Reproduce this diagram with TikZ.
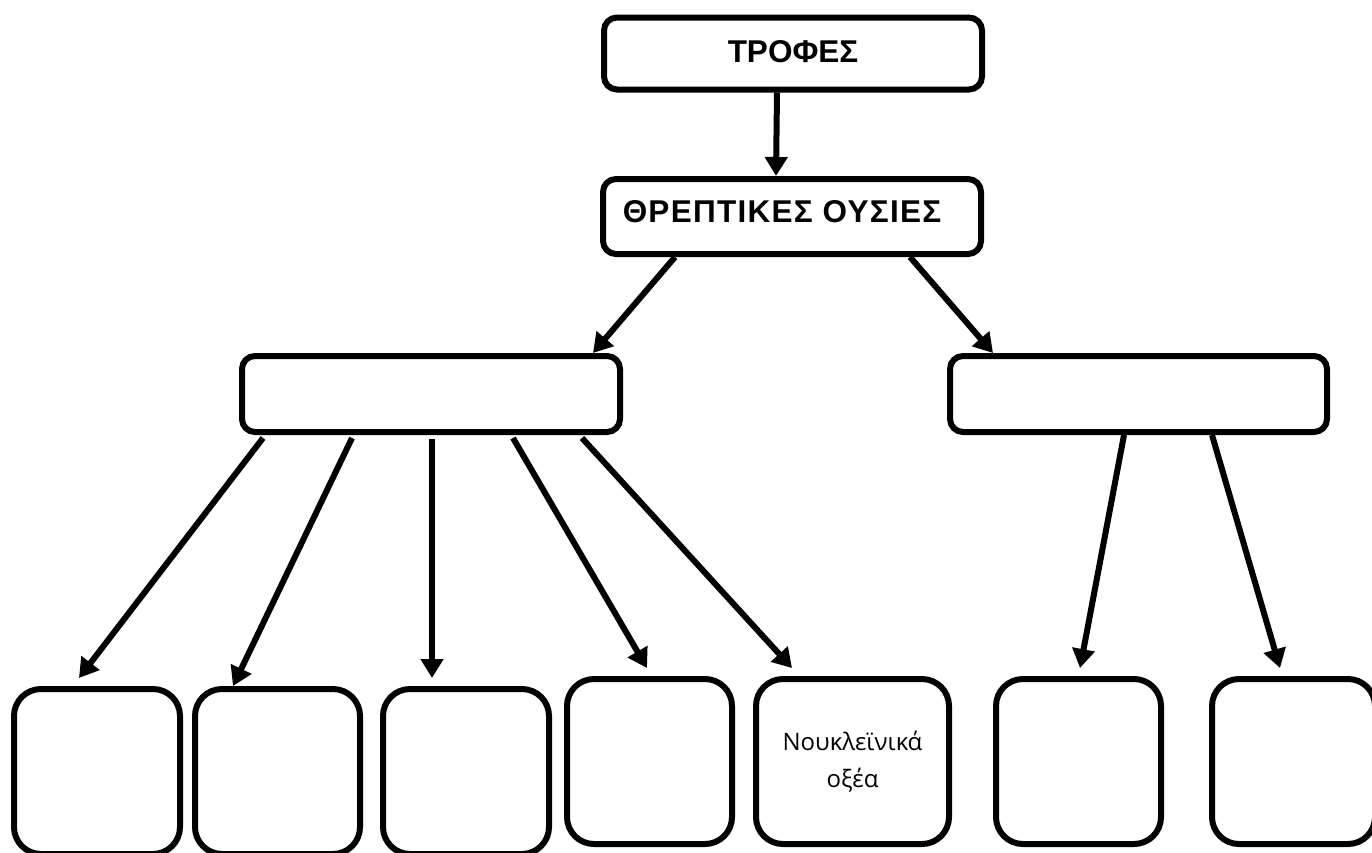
\documentclass[tikz,border=0pt]{standalone}
\usepackage{fontspec}
\usepackage{tikz}
\usetikzlibrary{arrows.meta}
\newfontfamily\headfont{Liberation Sans}
\newfontfamily\notefont{Open Sans}

\begin{document}
\begin{tikzpicture}[x=1pt,y=-1pt,
  hb/.style={draw,line width=6pt,rounded corners=13pt,minimum width=378pt,minimum height=72pt,inner sep=0pt,
    font=\headfont\bfseries\fontsize{31.5}{38}\selectfont},
  lb/.style={draw,line width=6pt,rounded corners=27pt,minimum width=165pt,minimum height=165pt,inner sep=0pt,align=center,
    font=\notefont\fontsize{24}{37}\selectfont},
  a/.style={-{Triangle[length=19pt,width=22pt]},line width=6pt}]
  \useasboundingbox (0,0) rectangle (1372,852);
  % top of the tree
  \node[hb,text depth=4pt] (food) at (793,53.5) {ΤΡΟΦΕΣ};
  \node[hb,minimum height=75pt,text depth=10pt] (nutr) at (792,216.5)
    {\hspace*{-20pt}\addfontfeature{LetterSpace=4}ΘΡΕΠΤΙΚΕΣ ΟΥΣΙΕΣ};
  \node[hb,minimum height=76pt] (grpL) at (431,394) {};
  \node[hb,minimum width=377pt,minimum height=76pt] (grpR) at (1138.5,394) {};
  % bottom row
  \node[lb,minimum width=166pt] (b1) at (97,771.5) {};
  \node[lb] (b2) at (277.5,771.5) {};
  \node[lb,minimum width=166pt] (b3) at (466,771.5) {};
  \node[lb] (b4) at (649.5,761.5) {};
  \node[lb,minimum width=193pt] (b5) at (852.5,761.5) {Νουκλεϊνικά\\οξέα};
  \node[lb] (b6) at (1078.5,761.5) {};
  \node[lb,minimum width=163pt] (b7) at (1293.5,761.5) {};
  % arrows
  \draw[a] ([xshift=-16pt]food.south) -- ([xshift=-16pt]nutr.north);
  \draw[a] ([xshift=-117pt]nutr.south) -- ([xshift=162pt]grpL.north);
  \draw[a] ([xshift=118pt]nutr.south) -- ([xshift=-145.5pt]grpR.north);
  \draw[a] ([xshift=-168pt,yshift=-3pt]grpL.south) -- ([xshift=-18pt,yshift=8pt]b1.north);
  \draw[a] ([xshift=-79pt,yshift=-3pt]grpL.south) -- ([xshift=-44.5pt]b2.north);
  \draw[a] ([xshift=1pt,yshift=-4pt]grpL.south) -- ([xshift=-34pt,yshift=8pt]b3.north);
  \draw[a] ([xshift=82pt,yshift=-3pt]grpL.south) -- ([xshift=-2.5pt,yshift=8pt]b4.north);
  \draw[a] ([xshift=151pt,yshift=-3pt]grpL.south) -- ([xshift=-60.5pt,yshift=8pt]b5.north);
  \draw[a] ([xshift=-14.5pt]grpR.south) -- ([xshift=1.5pt,yshift=8pt]b6.north);
  \draw[a] ([xshift=73.5pt]grpR.south) -- ([xshift=-13.5pt,yshift=8pt]b7.north);
\end{tikzpicture}
\end{document}
